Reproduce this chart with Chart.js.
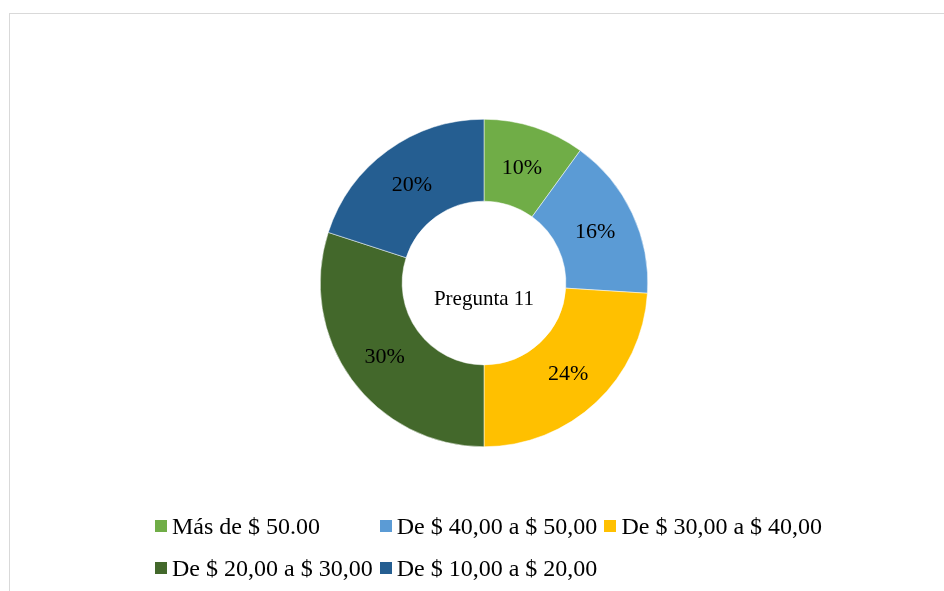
<!DOCTYPE html>
<html>
<head>
<meta charset="utf-8">
<script src="https://cdn.jsdelivr.net/npm/chart.js@4"></script>
<style>
  html, body { margin: 0; padding: 0; background: #fff; overflow: hidden; }
  #wrap { position: relative; width: 944px; height: 591px; }
  #frame { position: absolute; left: 9px; top: 13px; width: 1000px; height: 1000px; border: 1px solid #d9d9d9; }
  #pieChart { position: absolute; left: 0; top: 0; }
  .item { position: absolute; font-family: "Liberation Serif", "Times New Roman", serif; font-size: 24px; line-height: 24px; color: #000; white-space: nowrap; }
  .sq { position: absolute; width: 12px; height: 12px; }
</style>
</head>
<body>
<div id="wrap">
  <div id="frame"></div>
  <canvas id="pieChart" width="944" height="591"></canvas>
  <div id="legend"></div>
</div>
<script>
const categorias = ['Más de $ 50.00', 'De $ 40,00 a $ 50,00', 'De $ 30,00 a $ 40,00', 'De $ 20,00 a $ 30,00', 'De $ 10,00 a $ 20,00'];
const porcentajes = [10, 16, 24, 30, 20];
const colores = ['#70AD47', '#5B9BD5', '#FFC000', '#43682B', '#255E91'];
const titulo = 'Pregunta 11';

document.addEventListener("DOMContentLoaded", () => {

  // etiquetas dentro del anillo y texto central
  const etiquetas = {
    id: 'etiquetas',
    afterDatasetsDraw(chart) {
      const ctx = chart.ctx;
      const meta = chart.getDatasetMeta(0);
      ctx.save();
      ctx.fillStyle = '#000';
      ctx.textAlign = 'center';
      ctx.textBaseline = 'middle';
      ctx.font = '22px "Liberation Serif"';
      meta.data.forEach((arc, i) => {
        const p = arc.tooltipPosition();
        ctx.fillText(porcentajes[i] + '%', p.x, p.y + 2);
      });
      const a = chart.chartArea;
      ctx.font = '21px "Liberation Serif"';
      ctx.textBaseline = 'alphabetic';
      ctx.fillText(titulo, (a.left + a.right) / 2, (a.top + a.bottom) / 2 + 22);
      ctx.restore();
    }
  };

  const ctx = document.getElementById('pieChart').getContext('2d');
  new Chart(ctx, {
    type: 'doughnut',
    data: {
      labels: categorias,
      datasets: [{
        data: porcentajes,
        backgroundColor: colores,
        borderColor: '#fff',
        borderWidth: 0.5
      }]
    },
    options: {
      responsive: false,
      animation: false,
      cutout: '50%',
      layout: { padding: { left: 320, right: 296, top: 119, bottom: 144 } },
      plugins: {
        legend: { display: false },
        tooltip: { enabled: false }
      }
    },
    plugins: [etiquetas]
  });

  // leyenda en columnas fijas
  const leyenda = document.getElementById('legend');
  categorias.forEach((c, i) => {
    const col = i % 3, fila = Math.floor(i / 3);
    const x = 155 + col * 224.7;
    const y = 514 + fila * 42;
    const it = document.createElement('div');
    it.className = 'item';
    it.style.left = (x + 17) + 'px';
    it.style.top = y + 'px';
    it.textContent = c;
    const sq = document.createElement('div');
    sq.className = 'sq';
    sq.style.background = colores[i];
    sq.style.left = x + 'px';
    sq.style.top = (y + 6) + 'px';
    leyenda.appendChild(sq);
    leyenda.appendChild(it);
  });

});
</script>
</body>
</html>
